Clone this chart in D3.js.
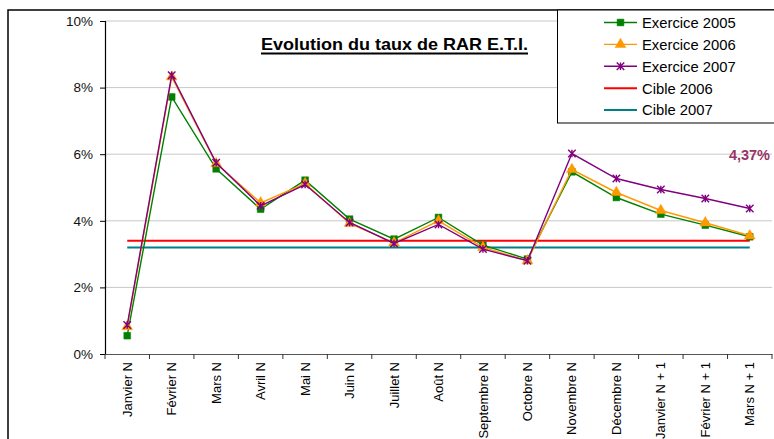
<!DOCTYPE html>
<html>
<head>
<meta charset="utf-8">
<script src="https://cdn.jsdelivr.net/npm/d3@7"></script>
<style>
  html, body { margin: 0; padding: 0; background: #fff; }
  svg { display: block; font-family: Arial, "Liberation Sans", sans-serif; }
</style>
</head>
<body>
<svg id="chart" width="774" height="439"></svg>
<script>
// Monthly categories (N = current year)
const categories = ["Janvier N", "Février N", "Mars N", "Avril N", "Mai N", "Juin N",
  "Juillet N", "Août N", "Septembre N", "Octobre N", "Novembre N", "Décembre N",
  "Janvier N + 1", "Février N + 1", "Mars N + 1"];

// Taux de RAR (in %)
const exercice2005 = [0.55, 7.72, 5.56, 4.35, 5.22, 4.05, 3.45, 4.10, 3.27, 2.85, 5.47, 4.70, 4.20, 3.87, 3.52];
const exercice2006 = [0.82, 8.32, 5.72, 4.54, 5.12, 3.92, 3.34, 4.00, 3.20, 2.80, 5.54, 4.85, 4.31, 3.94, 3.55];
const exercice2007 = [0.87, 8.37, 5.74, 4.45, 5.09, 3.95, 3.32, 3.89, 3.15, 2.80, 6.02, 5.27, 4.94, 4.67, 4.37];
const cible2006 = 3.4;
const cible2007 = 3.2;

const yTicks = [0, 2, 4, 6, 8, 10];
const titleText = "Evolution du taux de RAR E.T.I.";
const lastLabel = "4,37%";

const FONT = "Arial, 'Liberation Sans', sans-serif";
const svg = d3.select("#chart");

const plot = { left: 105, right: 772, top: 21, bottom: 354 };

const x = d3.scaleBand().domain(categories).range([plot.left, plot.right]).padding(0);
const y = d3.scaleLinear().domain([0, 10]).range([plot.bottom, plot.top]);
const cx = c => x(c) + x.bandwidth() / 2;

// outer chart frame
svg.append("rect")
  .attr("x", 8).attr("y", 10).attr("width", 800).attr("height", 500)
  .attr("fill", "none").attr("stroke", "#000").attr("stroke-width", 1.5);

// horizontal gridlines
svg.append("g").selectAll("line").data(yTicks.filter(d => d > 0)).join("line")
  .attr("x1", plot.left).attr("x2", plot.right)
  .attr("y1", d => y(d)).attr("y2", d => y(d))
  .attr("stroke", "#c8c8c8").attr("stroke-width", 1);

// y axis
const yAxis = d3.axisLeft(y).tickValues(yTicks).tickSize(5).tickPadding(7)
  .tickFormat(d => d + "%");
const gy = svg.append("g").attr("transform", `translate(${plot.left},0)`).call(yAxis);
gy.select(".domain").attr("stroke", "#000").attr("stroke-width", 1.2);
gy.selectAll(".tick line").attr("stroke", "#000");
gy.selectAll(".tick text").attr("font-size", 13.5).attr("fill", "#111")
  .attr("font-family", FONT);

// x axis: labels at band centres, tick marks at band boundaries
const xAxis = d3.axisBottom(x).tickSize(0).tickPadding(0);
const gx = svg.append("g").attr("transform", `translate(0,${plot.bottom})`).call(xAxis);
gx.select(".domain").attr("stroke", "#555").attr("stroke-width", 1.2);
gx.selectAll(".tick text")
  .attr("font-size", 13).attr("fill", "#000")
  .attr("font-family", FONT)
  .attr("text-anchor", "end")
  .attr("transform", "rotate(-90)")
  .attr("x", -8).attr("y", 0).attr("dy", "0.35em");
svg.append("g").selectAll("line").data(categories.concat([null])).join("line")
  .attr("x1", (d, i) => i < categories.length ? x(d) : x.range()[1])
  .attr("x2", (d, i) => i < categories.length ? x(d) : x.range()[1])
  .attr("y1", plot.bottom).attr("y2", plot.bottom + 5)
  .attr("stroke", "#333").attr("stroke-width", 1);

// target lines
const flat = v => categories.map(c => ({ c, v }));
const line = d3.line().x(d => cx(d.c)).y(d => y(d.v));
svg.append("path").datum(flat(cible2006)).attr("d", line)
  .attr("fill", "none").attr("stroke", "#ff0000").attr("stroke-width", 2);
svg.append("path").datum(flat(cible2007)).attr("d", line)
  .attr("fill", "none").attr("stroke", "#008080").attr("stroke-width", 2);

// custom star marker: X with a vertical bar
const starSymbol = {
  draw(ctx, size) {
    const r = Math.sqrt(size) / 2;
    ctx.moveTo(-r, -r); ctx.lineTo(r, r);
    ctx.moveTo(-r, r); ctx.lineTo(r, -r);
    ctx.moveTo(0, -r); ctx.lineTo(0, r);
  }
};

const series = [
  { name: "Exercice 2005", values: exercice2005, color: "#008000", symbol: d3.symbolSquare, size: 46, fill: true },
  { name: "Exercice 2006", values: exercice2006, color: "#ff9900", symbol: d3.symbolTriangle, size: 50, fill: true },
  { name: "Exercice 2007", values: exercice2007, color: "#800080", symbol: starSymbol, size: 56, fill: false }
];

series.forEach(s => {
  const pts = categories.map((c, i) => ({ c, v: s.values[i] }));
  svg.append("path").datum(pts).attr("d", line)
    .attr("fill", "none").attr("stroke", s.color).attr("stroke-width", 1.4);
  svg.append("g").selectAll("path").data(pts).join("path")
    .attr("transform", d => `translate(${cx(d.c)},${y(d.v)})`)
    .attr("d", d3.symbol().type(s.symbol).size(s.size))
    .attr("fill", s.fill ? s.color : "none")
    .attr("stroke", s.color).attr("stroke-width", s.fill ? 0.5 : 1.4);
});

// value label for last point of 2007
svg.append("text")
  .attr("x", 770).attr("y", y(exercice2007[exercice2007.length - 1]) - 48)
  .attr("text-anchor", "end")
  .attr("font-size", 14.5).attr("font-weight", "bold").attr("fill", "#993366")
  .text(lastLabel);

// title with a heavy underline
const title = svg.append("text")
  .attr("x", 261).attr("y", 50)
  .attr("font-size", 16.5).attr("font-weight", "bold").attr("fill", "#000")
  .attr("textLength", 267).attr("lengthAdjust", "spacingAndGlyphs")
  .text(titleText);
svg.append("line").attr("x1", 261).attr("x2", 528).attr("y1", 53.5).attr("y2", 53.5)
  .attr("stroke", "#000").attr("stroke-width", 2);

// legend
const lg = svg.append("g");
lg.append("rect").attr("x", 557.5).attr("y", 10).attr("width", 230).attr("height", 113)
  .attr("fill", "#fff").attr("stroke", "#000").attr("stroke-width", 1);
const legendItems = series.map(s => ({ ...s, marker: true })).concat([
  { name: "Cible 2006", color: "#ff0000", marker: false },
  { name: "Cible 2007", color: "#008080", marker: false }
]);
const li = lg.selectAll("g.item").data(legendItems).join("g")
  .attr("transform", (d, i) => `translate(0,${22.5 + i * 21.9})`);
li.append("line").attr("x1", 604).attr("x2", 637).attr("y1", 0).attr("y2", 0)
  .attr("stroke", d => d.color).attr("stroke-width", d => d.marker ? 1.4 : 2);
li.filter(d => d.marker).append("path")
  .attr("transform", "translate(620.5,0)")
  .attr("d", d => d3.symbol().type(d.symbol).size(d.size)())
  .attr("fill", d => d.fill ? d.color : "none")
  .attr("stroke", d => d.color).attr("stroke-width", d => d.fill ? 0.5 : 1.4);
li.append("text").attr("x", 642).attr("y", 0).attr("dy", "0.36em")
  .attr("font-size", 14.8).attr("fill", "#000").text(d => d.name);
</script>
</body>
</html>
